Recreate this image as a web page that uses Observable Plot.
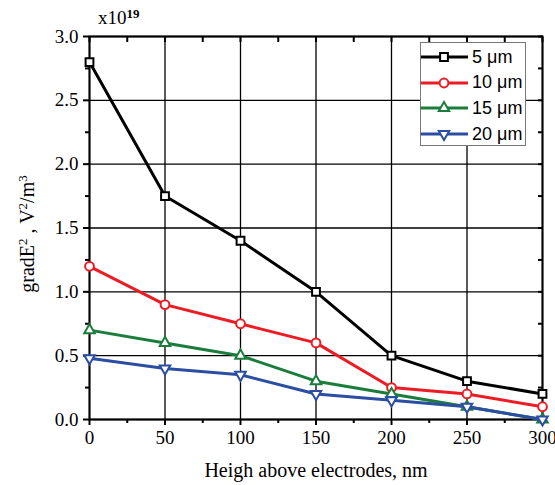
<!DOCTYPE html>
<html>
<head>
<meta charset="utf-8">
<script src="https://cdn.jsdelivr.net/npm/d3@7"></script>
<script src="https://cdn.jsdelivr.net/npm/@observablehq/plot@0.6"></script>
<style>
  body { margin: 0; background: white; }
  #wrap { position: relative; width: 555px; height: 485px; overflow: hidden; }
  #exp { position: absolute; left: 98px; top: 7px; font-family: "Liberation Serif", serif; font-size: 19px; line-height: 22px; }
  #exp sup { font-size: 13px; position: relative; top: -4px; vertical-align: top; font-weight: bold; }
  #ylab { position: absolute; left: 27px; top: 234px; transform: translate(-50%, -50%) rotate(-90deg);
          font-family: "Liberation Serif", serif; font-size: 20px; white-space: nowrap; line-height: 22px; }
  #ylab sup { font-size: 13px; position: relative; top: -4px; vertical-align: top; }
  #legend { position: absolute; left: 420px; top: 42px; width: 106px; height: 104px;
            background: white; border: 1.5px solid #777; box-sizing: border-box; }
  .row { position: absolute; left: 0; height: 24px; display: flex; align-items: center; }
  .row span { font-family: "Liberation Sans", Arial, sans-serif; font-size: 18px; margin-left: 4px; }
</style>
</head>
<body>
<div id="wrap">
  <div id="chart"></div>
  <div id="exp">x10<sup>19</sup></div>
  <div id="ylab">gradE<sup>2</sup> , V<sup>2</sup>/m<sup>3</sup></div>
  <div id="legend"></div>
</div>
<script>
const heights = [0, 50, 100, 150, 200, 250, 300];
const series5 = [2.8, 1.75, 1.4, 1.0, 0.5, 0.3, 0.2];
const series10 = [1.2, 0.9, 0.75, 0.6, 0.25, 0.2, 0.1];
const series15 = [0.7, 0.6, 0.5, 0.3, 0.2, 0.1, 0.0];
const series20 = [0.48, 0.4, 0.35, 0.2, 0.15, 0.1, 0.0];
const seriesNames = ["5 μm", "10 μm", "15 μm", "20 μm"];
const seriesColors = ["#000000", "#ec1c24", "#1a7d3b", "#2b4ea2"];
const seriesSymbols = ["square", "circle", "triangle", "triangle"];
const seriesRotate = [0, 0, 0, 180];
const xTicks = [0, 50, 100, 150, 200, 250, 300];
const xMinor = [25, 75, 125, 175, 225, 275];
const yTicks = [0, 0.5, 1.0, 1.5, 2.0, 2.5, 3.0];
const yMinor = [0.25, 0.75, 1.25, 1.75, 2.25, 2.75];

const allValues = [series5, series10, series15, series20];
const data = [];
allValues.forEach((vals, i) => vals.forEach((v, j) => data.push({series: seriesNames[i], idx: i, x: heights[j], y: v})));

const symR = [4.4, 4.4, 3.9, 3.9];
const seriesMarks = [];
seriesNames.forEach((name, i) => {
  const d = data.filter(p => p.idx === i);
  seriesMarks.push(Plot.line(d, {x: "x", y: "y", stroke: seriesColors[i], strokeWidth: 3}));
  seriesMarks.push(Plot.dot(d, {x: "x", y: "y", symbol: () => seriesSymbols[i], stroke: seriesColors[i],
    fill: "white", strokeWidth: 2, r: symR[i], rotate: seriesRotate[i]}));
});

const chart = Plot.plot({
  width: 555, height: 485,
  marginLeft: 89, marginRight: 13, marginTop: 36, marginBottom: 66,
  style: {fontFamily: "Liberation Serif, serif", fontSize: "19px", color: "black", background: "white"},
  x: {domain: [0, 300]},
  y: {domain: [0, 3]},
  symbol: {type: "identity"},
  marks: [
    Plot.gridX(xTicks, {stroke: "black", strokeOpacity: 1, strokeWidth: 1.3}),
    Plot.gridY(yTicks, {stroke: "black", strokeOpacity: 1, strokeWidth: 1.3}),
    Plot.axisX({ticks: xTicks, tickSize: 6, tickPadding: 5, strokeWidth: 2, fontSize: 19,
      label: "Heigh above electrodes, nm", labelAnchor: "center", labelArrow: "none", labelOffset: 57}),
    Plot.axisX({ticks: xMinor, tickSize: 4, text: null, label: null, strokeWidth: 2}),
    Plot.axisX({anchor: "top", ticks: xTicks.concat(xMinor), tickSize: -5, text: null, label: null, strokeWidth: 2}),
    Plot.axisY({ticks: yTicks, tickSize: 6, tickPadding: 5, strokeWidth: 2, tickFormat: d3.format(".1f"),
      fontSize: 19, label: null}),
    Plot.axisY({ticks: yMinor, tickSize: 4, text: null, label: null, strokeWidth: 2}),
    Plot.axisY({anchor: "right", ticks: yTicks.concat(yMinor), tickSize: -5, text: null, label: null, strokeWidth: 2}),
    Plot.frame({stroke: "black", strokeWidth: 2}),
    ...seriesMarks
  ]
});
// make the axis label larger than tick labels
d3.select(chart).selectAll("g[aria-label='x-axis label'] text").attr("font-size", 20);
document.getElementById("chart").appendChild(chart);

// legend
const legend = d3.select("#legend");
seriesNames.forEach((name, i) => {
  const row = legend.append("div").attr("class", "row").style("top", (2 + i * 25.7) + "px");
  const svg = row.append("svg").attr("width", 47).attr("height", 24);
  svg.append("line").attr("x1", 0).attr("x2", 47).attr("y1", 12).attr("y2", 12)
    .attr("stroke", seriesColors[i]).attr("stroke-width", 3);
  const sym = seriesSymbols[i] === "square" ? d3.symbolSquare : seriesSymbols[i] === "circle" ? d3.symbolCircle : d3.symbolTriangle;
  svg.append("path").attr("d", d3.symbol(sym, Math.PI * symR[i] * symR[i])())
    .attr("transform", `translate(23,12) rotate(${seriesRotate[i]})`)
    .attr("fill", "white").attr("stroke", seriesColors[i]).attr("stroke-width", 2);
  row.append("span").text(name);
});
</script>
</body>
</html>
